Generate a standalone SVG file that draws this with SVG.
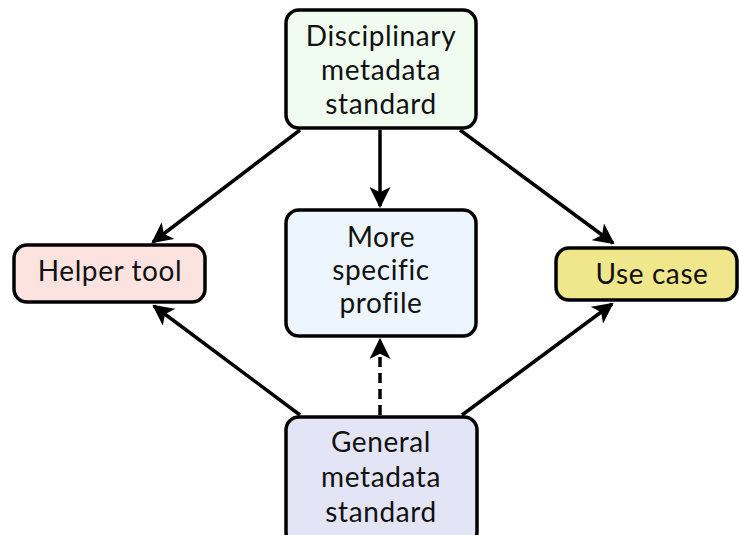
<svg xmlns="http://www.w3.org/2000/svg" width="739" height="535" viewBox="0 0 739 535">
  <style>
    .box { stroke: #000; stroke-width: 3.5; }
    .lbl { font-family: Lato, "Open Sans", "Liberation Sans", sans-serif; font-size: 28px; letter-spacing: 0.6px; fill: #111; text-anchor: middle; }
    .edge { stroke: #000; stroke-width: 3.5; fill: none; marker-end: url(#head); }
    .dashed { stroke-dasharray: 10 6; }
  </style>
  <defs>
    <marker id="head" viewBox="0 0 10 10" refX="9" refY="5" markerWidth="6" markerHeight="6" orient="auto" markerUnits="strokeWidth">
      <path d="M0,0 L10,5 L0,10 L2.5,5 Z" fill="#000"/>
    </marker>
  </defs>
  <rect width="739" height="535" fill="#fff"/>

  <g id="connectors">
    <line class="edge" x1="300" y1="130" x2="153" y2="242"/>
    <line class="edge" x1="460" y1="130" x2="613" y2="243"/>
    <line class="edge" x1="380" y1="130" x2="380" y2="206"/>
    <line class="edge" x1="300" y1="415" x2="154" y2="306"/>
    <line class="edge" x1="462" y1="415" x2="612" y2="304"/>
    <line class="edge dashed" x1="380" y1="415" x2="380" y2="340"/>
  </g>

  <g id="disciplinary">
    <rect class="box" x="286" y="10" width="190" height="118" rx="13" fill="#effcef"/>
    <text class="lbl" x="381" y="46">Disciplinary</text>
    <text class="lbl" x="381" y="80">metadata</text>
    <text class="lbl" x="381" y="114">standard</text>
  </g>

  <g id="profile">
    <rect class="box" x="286" y="210" width="190" height="126" rx="13" fill="#edf5fe"/>
    <text class="lbl" x="381" y="247">More</text>
    <text class="lbl" x="381" y="280">specific</text>
    <text class="lbl" x="381" y="313">profile</text>
  </g>

  <g id="general">
    <rect class="box" x="286" y="417" width="191" height="128" rx="13" fill="#e4e4f7"/>
    <text class="lbl" x="381" y="452">General</text>
    <text class="lbl" x="381" y="487">metadata</text>
    <text class="lbl" x="381" y="522">standard</text>
  </g>

  <g id="helper">
    <rect class="box" x="14" y="245" width="191" height="57" rx="13" fill="#fde3e0"/>
    <text class="lbl" x="110" y="281">Helper tool</text>
  </g>

  <g id="usecase">
    <rect class="box" x="556" y="248" width="181" height="52" rx="13" fill="#f0e68c"/>
    <text class="lbl" x="652" y="284">Use case</text>
  </g>
</svg>
